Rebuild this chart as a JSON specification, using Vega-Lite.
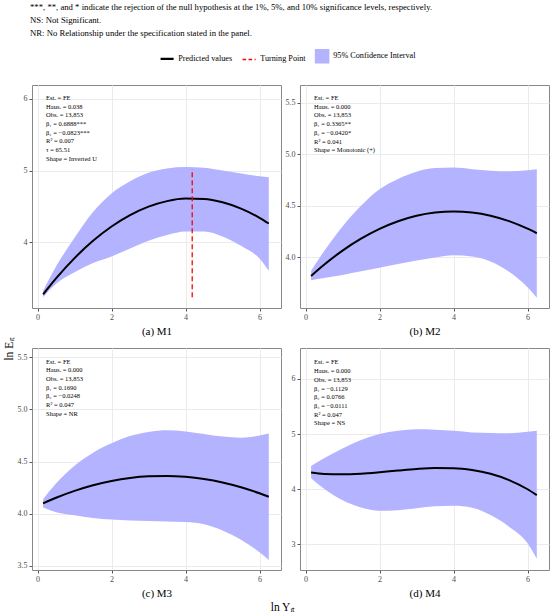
{
  "$schema": "https://vega.github.io/schema/vega-lite/v6.json",
  "description": "Predicted ln E against ln Y with 95% confidence bands, four model panels",
  "background": "white",
  "padding": {"left": 4, "top": 3, "right": 2, "bottom": 2},
  "datasets": {
    "band": [
      {"p": "a", "x": 0.15, "m": 3.271, "lo": 3.23, "hi": 3.32},
      {"p": "a", "x": 0.5, "m": 3.494, "lo": 3.42, "hi": 3.66},
      {"p": "a", "x": 1.0, "m": 3.777, "lo": 3.58, "hi": 4.06},
      {"p": "a", "x": 1.5, "m": 4.018, "lo": 3.71, "hi": 4.42},
      {"p": "a", "x": 2.0, "m": 4.218, "lo": 3.8, "hi": 4.68},
      {"p": "a", "x": 2.5, "m": 4.378, "lo": 3.91, "hi": 4.85},
      {"p": "a", "x": 3.0, "m": 4.496, "lo": 4.02, "hi": 4.97},
      {"p": "a", "x": 3.5, "m": 4.573, "lo": 4.1, "hi": 5.03},
      {"p": "a", "x": 4.0, "m": 4.608, "lo": 4.15, "hi": 5.05},
      {"p": "a", "x": 4.5, "m": 4.603, "lo": 4.15, "hi": 5.04},
      {"p": "a", "x": 5.0, "m": 4.557, "lo": 4.08, "hi": 5.0},
      {"p": "a", "x": 5.5, "m": 4.469, "lo": 3.95, "hi": 4.96},
      {"p": "a", "x": 6.0, "m": 4.34, "lo": 3.77, "hi": 4.92},
      {"p": "a", "x": 6.25, "m": 4.26, "lo": 3.6, "hi": 4.905},
      {"p": "b", "x": 0.15, "m": 3.821, "lo": 3.78, "hi": 3.87},
      {"p": "b", "x": 0.5, "m": 3.929, "lo": 3.8, "hi": 4.06},
      {"p": "b", "x": 1.0, "m": 4.066, "lo": 3.83, "hi": 4.3},
      {"p": "b", "x": 1.5, "m": 4.181, "lo": 3.865, "hi": 4.5},
      {"p": "b", "x": 2.0, "m": 4.276, "lo": 3.9, "hi": 4.66},
      {"p": "b", "x": 2.5, "m": 4.35, "lo": 3.935, "hi": 4.76},
      {"p": "b", "x": 3.0, "m": 4.403, "lo": 3.97, "hi": 4.83},
      {"p": "b", "x": 3.5, "m": 4.434, "lo": 4.0, "hi": 4.865},
      {"p": "b", "x": 4.0, "m": 4.445, "lo": 4.02, "hi": 4.87},
      {"p": "b", "x": 4.5, "m": 4.435, "lo": 4.01, "hi": 4.855},
      {"p": "b", "x": 5.0, "m": 4.404, "lo": 3.96, "hi": 4.84},
      {"p": "b", "x": 5.5, "m": 4.351, "lo": 3.86, "hi": 4.835},
      {"p": "b", "x": 6.0, "m": 4.278, "lo": 3.71, "hi": 4.845},
      {"p": "b", "x": 6.25, "m": 4.234, "lo": 3.61, "hi": 4.855},
      {"p": "c", "x": 0.15, "m": 4.1, "lo": 4.06, "hi": 4.14},
      {"p": "c", "x": 0.5, "m": 4.153, "lo": 4.015, "hi": 4.29},
      {"p": "c", "x": 1.0, "m": 4.219, "lo": 3.985, "hi": 4.46},
      {"p": "c", "x": 1.5, "m": 4.273, "lo": 3.96, "hi": 4.585},
      {"p": "c", "x": 2.0, "m": 4.314, "lo": 3.945, "hi": 4.675},
      {"p": "c", "x": 2.5, "m": 4.343, "lo": 3.935, "hi": 4.745},
      {"p": "c", "x": 3.0, "m": 4.359, "lo": 3.93, "hi": 4.785},
      {"p": "c", "x": 3.5, "m": 4.363, "lo": 3.925, "hi": 4.8},
      {"p": "c", "x": 4.0, "m": 4.354, "lo": 3.92, "hi": 4.79},
      {"p": "c", "x": 4.5, "m": 4.333, "lo": 3.9, "hi": 4.765},
      {"p": "c", "x": 5.0, "m": 4.3, "lo": 3.84, "hi": 4.74},
      {"p": "c", "x": 5.5, "m": 4.254, "lo": 3.75, "hi": 4.73},
      {"p": "c", "x": 6.0, "m": 4.196, "lo": 3.63, "hi": 4.75},
      {"p": "c", "x": 6.25, "m": 4.163, "lo": 3.555, "hi": 4.77},
      {"p": "d", "x": 0.15, "m": 4.301, "lo": 4.2, "hi": 4.42},
      {"p": "d", "x": 0.5, "m": 4.277, "lo": 4.01, "hi": 4.56},
      {"p": "d", "x": 1.0, "m": 4.269, "lo": 3.8, "hi": 4.74},
      {"p": "d", "x": 1.5, "m": 4.282, "lo": 3.67, "hi": 4.89},
      {"p": "d", "x": 2.0, "m": 4.308, "lo": 3.61, "hi": 5.0},
      {"p": "d", "x": 2.5, "m": 4.339, "lo": 3.62, "hi": 5.06},
      {"p": "d", "x": 3.0, "m": 4.367, "lo": 3.655, "hi": 5.085},
      {"p": "d", "x": 3.5, "m": 4.383, "lo": 3.69, "hi": 5.08},
      {"p": "d", "x": 4.0, "m": 4.38, "lo": 3.7, "hi": 5.06},
      {"p": "d", "x": 4.5, "m": 4.348, "lo": 3.665, "hi": 5.03},
      {"p": "d", "x": 5.0, "m": 4.279, "lo": 3.53, "hi": 5.02},
      {"p": "d", "x": 5.5, "m": 4.165, "lo": 3.32, "hi": 5.015},
      {"p": "d", "x": 6.0, "m": 3.999, "lo": 3.02, "hi": 5.04},
      {"p": "d", "x": 6.25, "m": 3.893, "lo": 2.74, "hi": 5.06}
    ],
    "notes": [
      {"p": "a", "x": 0.23, "y": 6.057, "label": "Est. = FE\nHaus. = 0.038\nObs. = 13,853\nβ₁ = 0.6888***\nβ₂ = −0.0823***\nR² = 0.007\nτ = 65.51\nShape = Inverted U"},
      {"p": "b", "x": 0.23, "y": 5.573, "label": "Est. = FE\nHaus. = 0.000\nObs. = 13,853\nβ₁ = 0.3365**\nβ₂ = −0.0420*\nR² = 0.041\nShape = Monotonic (+)"},
      {"p": "c", "x": 0.23, "y": 5.489, "label": "Est. = FE\nHaus. = 0.000\nObs. = 13,853\nβ₁ = 0.1690\nβ₂ = −0.0248\nR² = 0.047\nShape = NR"},
      {"p": "d", "x": 0.23, "y": 6.353, "label": "Est. = FE\nHaus. = 0.000\nObs. = 13,853\nβ₁ = −0.1129\nβ₂ = 0.0766\nβ₃ = −0.0111\nR² = 0.047\nShape = NS"}
    ],
    "tp": [
      {"p": "a", "x": 4.18, "y": 3.23, "y2": 5.02}
    ]
  },
  "title": {
    "text": [
      "***, **, and * indicate the rejection of the null hypothesis at the 1%, 5%, and 10% significance levels, respectively.",
      "NS: Not Significant.",
      "NR: No Relationship under the specification stated in the panel."
    ],
    "anchor": "start",
    "font": "Liberation Serif",
    "fontSize": 8.7,
    "fontWeight": "normal",
    "color": "#000000",
    "lineHeight": 13,
    "offset": 14,
    "dx": 26
  },
  "vconcat": [
    {
      "title": {"text": "ln Eᵢₜ", "orient": "left", "anchor": "middle", "font": "Liberation Serif", "fontSize": 11.5, "fontWeight": "normal", "color": "#000000", "offset": 1},
      "vconcat": [
        {
          "title": {"text": "ln Yᵢₜ", "orient": "bottom", "anchor": "middle", "font": "Liberation Serif", "fontSize": 11.5, "fontWeight": "normal", "color": "#000000", "offset": 3},
          "columns": 2,
          "spacing": {"row": 10, "column": 2},
          "concat": [
            {
              "width": 249,
              "height": 223,
              "layer": [
                {
                  "data": {"name": "band"},
                  "transform": [{"filter": "datum.p === 'a'"}],
                  "mark": {"type": "area", "interpolate": "monotone"},
                  "encoding": {
                    "x": {"field": "x", "type": "quantitative", "scale": {"domain": [-0.15, 6.58], "nice": false, "zero": false}, "axis": {"values": [0, 2, 4, 6], "title": "(a) M1"}},
                    "y": {"field": "lo", "type": "quantitative", "scale": {"domain": [3.08, 6.195], "nice": false, "zero": false}, "axis": {"values": [4, 5, 6], "format": "d", "title": null}},
                    "y2": {"field": "hi"},
                    "color": {
                      "datum": "95% Confidence Interval",
                      "type": "nominal",
                      "scale": {"domain": ["Predicted values", "Turning Point", "95% Confidence Interval"], "range": ["#000000", "#ff0000", "#b3b3ff"]},
                      "legend": {
                        "orient": "none",
                        "legendX": 131,
                        "legendY": -33,
                        "direction": "horizontal",
                        "title": null,
                        "labelFont": "Liberation Serif",
                        "labelFontSize": 8.2,
                        "labelColor": "#000000",
                        "labelOffset": 7,
                        "columnPadding": 6,
                        "symbolSize": 170,
                        "encode": {
                          "symbols": {
                            "update": {
                              "shape": {"signal": "datum.value === '95% Confidence Interval' ? 'square' : 'stroke'"},
                              "fill": {"signal": "datum.value === '95% Confidence Interval' ? '#b3b3ff' : 'transparent'"},
                              "stroke": {"signal": "datum.value === 'Predicted values' ? '#000000' : (datum.value === 'Turning Point' ? '#ff0000' : 'transparent')"},
                              "strokeDash": {"signal": "datum.value === 'Turning Point' ? [3.5, 2.5] : [1, 0]"},
                              "strokeWidth": {"signal": "datum.value === 'Predicted values' ? 2.2 : 1.5"},
                              "opacity": {"value": 1}
                            }
                          }
                        }
                      }
                    }
                  }
                },
                {
                  "data": {"name": "band"},
                  "transform": [{"filter": "datum.p === 'a'"}],
                  "mark": {"type": "line", "interpolate": "monotone", "strokeWidth": 2},
                  "encoding": {
                    "x": {"field": "x", "type": "quantitative"},
                    "y": {"field": "m", "type": "quantitative"},
                    "color": {"datum": "Predicted values", "type": "nominal"}
                  }
                },
                {
                  "data": {"name": "tp"},
                  "mark": {"type": "rule", "strokeWidth": 1.3, "strokeDash": [5, 3]},
                  "encoding": {
                    "x": {"field": "x", "type": "quantitative"},
                    "y": {"field": "y", "type": "quantitative"},
                    "y2": {"field": "y2"},
                    "color": {"datum": "Turning Point", "type": "nominal"}
                  }
                },
                {
                  "data": {"name": "notes"},
                  "transform": [{"filter": "datum.p === 'a'"}],
                  "mark": {"type": "text", "align": "left", "baseline": "top", "lineBreak": "\n", "fontSize": 6.5, "lineHeight": 8.7, "font": "Liberation Serif", "color": "#000000"},
                  "encoding": {
                    "x": {"field": "x", "type": "quantitative"},
                    "y": {"field": "y", "type": "quantitative"},
                    "text": {"field": "label"}
                  }
                }
              ]
            },
            {
              "width": 249,
              "height": 223,
              "layer": [
                {
                  "data": {"name": "band"},
                  "transform": [{"filter": "datum.p === 'b'"}],
                  "mark": {"type": "area", "interpolate": "monotone"},
                  "encoding": {
                    "x": {"field": "x", "type": "quantitative", "scale": {"domain": [-0.15, 6.58], "nice": false, "zero": false}, "axis": {"values": [0, 2, 4, 6], "title": "(b) M2"}},
                    "y": {"field": "lo", "type": "quantitative", "scale": {"domain": [3.51, 5.67], "nice": false, "zero": false}, "axis": {"values": [4.0, 4.5, 5.0, 5.5], "format": ".1f", "title": null}},
                    "y2": {"field": "hi"},
                    "color": {"datum": "95% Confidence Interval", "type": "nominal"}
                  }
                },
                {
                  "data": {"name": "band"},
                  "transform": [{"filter": "datum.p === 'b'"}],
                  "mark": {"type": "line", "interpolate": "monotone", "strokeWidth": 2},
                  "encoding": {
                    "x": {"field": "x", "type": "quantitative"},
                    "y": {"field": "m", "type": "quantitative"},
                    "color": {"datum": "Predicted values", "type": "nominal"}
                  }
                },
                {
                  "data": {"name": "notes"},
                  "transform": [{"filter": "datum.p === 'b'"}],
                  "mark": {"type": "text", "align": "left", "baseline": "top", "lineBreak": "\n", "fontSize": 6.5, "lineHeight": 8.7, "font": "Liberation Serif", "color": "#000000"},
                  "encoding": {
                    "x": {"field": "x", "type": "quantitative"},
                    "y": {"field": "y", "type": "quantitative"},
                    "text": {"field": "label"}
                  }
                }
              ]
            },
            {
              "width": 249,
              "height": 222,
              "layer": [
                {
                  "data": {"name": "band"},
                  "transform": [{"filter": "datum.p === 'c'"}],
                  "mark": {"type": "area", "interpolate": "monotone"},
                  "encoding": {
                    "x": {"field": "x", "type": "quantitative", "scale": {"domain": [-0.15, 6.58], "nice": false, "zero": false}, "axis": {"values": [0, 2, 4, 6], "title": "(c) M3"}},
                    "y": {"field": "lo", "type": "quantitative", "scale": {"domain": [3.46, 5.59], "nice": false, "zero": false}, "axis": {"values": [3.5, 4.0, 4.5, 5.0, 5.5], "format": ".1f", "title": null}},
                    "y2": {"field": "hi"},
                    "color": {"datum": "95% Confidence Interval", "type": "nominal"}
                  }
                },
                {
                  "data": {"name": "band"},
                  "transform": [{"filter": "datum.p === 'c'"}],
                  "mark": {"type": "line", "interpolate": "monotone", "strokeWidth": 2},
                  "encoding": {
                    "x": {"field": "x", "type": "quantitative"},
                    "y": {"field": "m", "type": "quantitative"},
                    "color": {"datum": "Predicted values", "type": "nominal"}
                  }
                },
                {
                  "data": {"name": "notes"},
                  "transform": [{"filter": "datum.p === 'c'"}],
                  "mark": {"type": "text", "align": "left", "baseline": "top", "lineBreak": "\n", "fontSize": 6.5, "lineHeight": 8.7, "font": "Liberation Serif", "color": "#000000"},
                  "encoding": {
                    "x": {"field": "x", "type": "quantitative"},
                    "y": {"field": "y", "type": "quantitative"},
                    "text": {"field": "label"}
                  }
                }
              ]
            },
            {
              "width": 249,
              "height": 222,
              "layer": [
                {
                  "data": {"name": "band"},
                  "transform": [{"filter": "datum.p === 'd'"}],
                  "mark": {"type": "area", "interpolate": "monotone"},
                  "encoding": {
                    "x": {"field": "x", "type": "quantitative", "scale": {"domain": [-0.15, 6.58], "nice": false, "zero": false}, "axis": {"values": [0, 2, 4, 6], "title": "(d) M4"}},
                    "y": {"field": "lo", "type": "quantitative", "scale": {"domain": [2.535, 6.56], "nice": false, "zero": false}, "axis": {"values": [3, 4, 5, 6], "format": "d", "title": null}},
                    "y2": {"field": "hi"},
                    "color": {"datum": "95% Confidence Interval", "type": "nominal"}
                  }
                },
                {
                  "data": {"name": "band"},
                  "transform": [{"filter": "datum.p === 'd'"}],
                  "mark": {"type": "line", "interpolate": "monotone", "strokeWidth": 2},
                  "encoding": {
                    "x": {"field": "x", "type": "quantitative"},
                    "y": {"field": "m", "type": "quantitative"},
                    "color": {"datum": "Predicted values", "type": "nominal"}
                  }
                },
                {
                  "data": {"name": "notes"},
                  "transform": [{"filter": "datum.p === 'd'"}],
                  "mark": {"type": "text", "align": "left", "baseline": "top", "lineBreak": "\n", "fontSize": 6.5, "lineHeight": 8.7, "font": "Liberation Serif", "color": "#000000"},
                  "encoding": {
                    "x": {"field": "x", "type": "quantitative"},
                    "y": {"field": "y", "type": "quantitative"},
                    "text": {"field": "label"}
                  }
                }
              ]
            }
          ]
        }
      ]
    }
  ],
  "config": {
    "font": "Liberation Serif",
    "view": {"stroke": "#888888", "strokeWidth": 1},
    "axis": {
      "domain": false,
      "grid": true,
      "gridColor": "#ebebeb",
      "gridWidth": 1,
      "ticks": true,
      "tickColor": "#555555",
      "tickSize": 3,
      "labelFont": "Liberation Serif",
      "labelFontSize": 8,
      "labelColor": "#4d4d4d",
      "labelPadding": 2,
      "titleFont": "Liberation Serif",
      "titleFontSize": 11,
      "titleFontWeight": "normal",
      "titleColor": "#000000",
      "titlePadding": 4
    },
    "title": {"font": "Liberation Serif"}
  }
}
